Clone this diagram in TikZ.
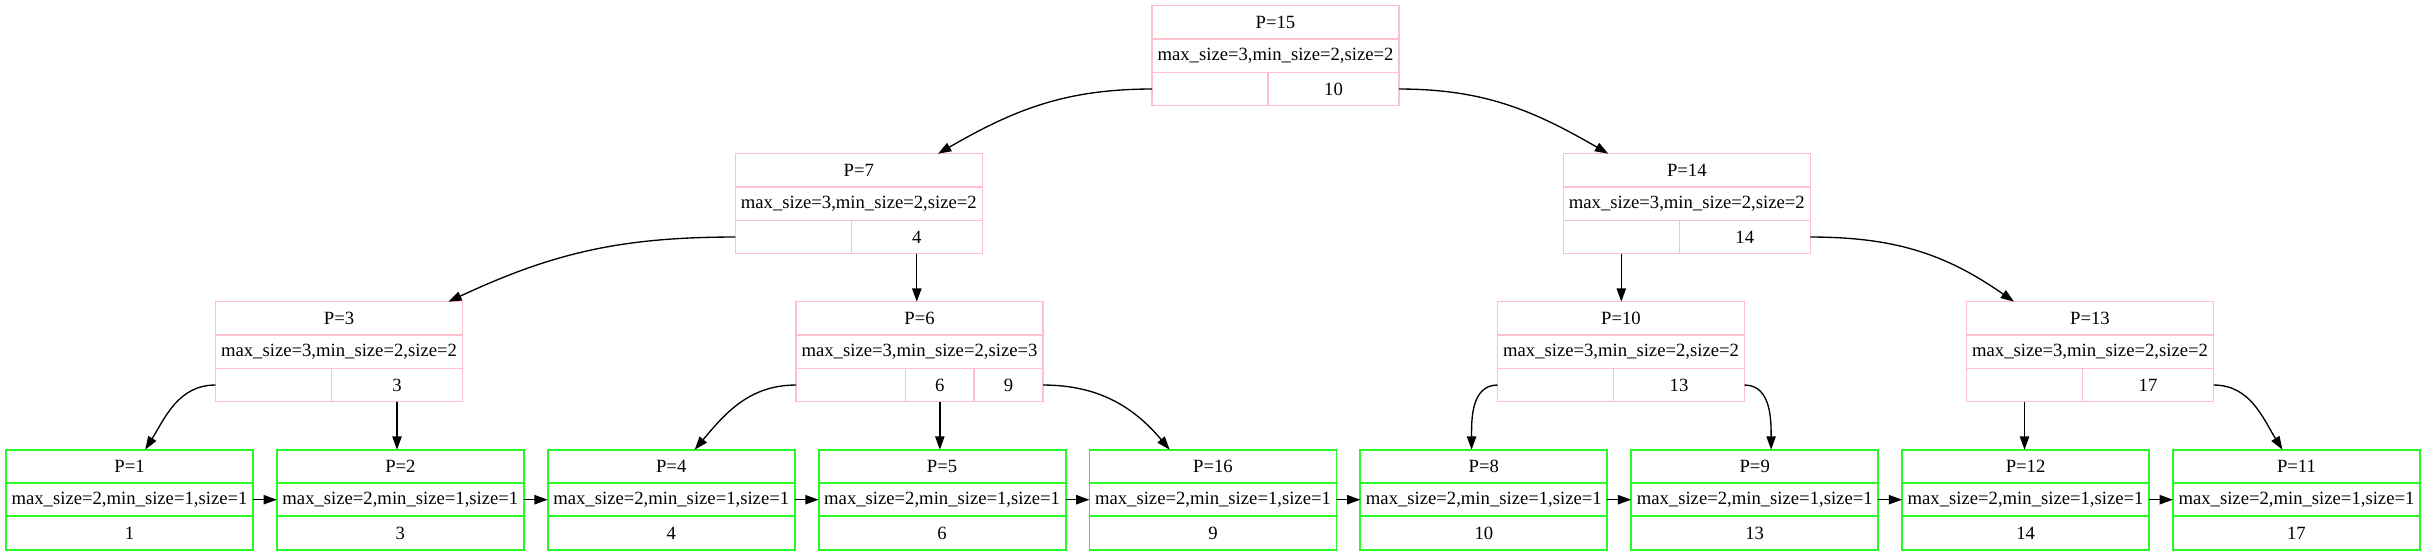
\documentclass[tikz,border=0pt]{standalone}
\usepackage{fontspec}
\setmainfont{Liberation Serif}
\usetikzlibrary{positioning,arrows.meta}
\definecolor{recpink}{RGB}{255,192,203}
\definecolor{leafgreen}{RGB}{40,250,40}

\begin{document}
\begin{tikzpicture}[x=0.75pt, y=-0.75pt,
  rec/.style={draw=recpink, line width=1pt, minimum width=185.25pt,
              minimum height=25pt, inner sep=0pt, outer sep=0pt,
              font=\fontsize{14}{16}\selectfont},
  lrec/.style={rec, draw=leafgreen, line width=1.4pt},
  arr/.style={-{Triangle[length=10pt,width=7pt]}, line width=1pt}]
\useasboundingbox (0,0) rectangle (2423,555);
% root page
\node[rec, anchor=north west] (p15) at (1152,5.7) {P=15};
\node[rec, below=0pt of p15] (p15m) {max\_size=3,min\_size=2,size=2};
\node[rec, minimum width=87pt, below right=0pt of p15m.south west] (p15a) {};
\node[rec, minimum width=98.25pt, right=0pt of p15a] (p15b) {10};
% second level
\node[rec, anchor=north west] (p7) at (735.3,153.7) {P=7};
\node[rec, below=0pt of p7] (p7m) {max\_size=3,min\_size=2,size=2};
\node[rec, minimum width=87pt, below right=0pt of p7m.south west] (p7a) {};
\node[rec, minimum width=98.25pt, right=0pt of p7a] (p7b) {4};
\node[rec, anchor=north west] (p14) at (1563.3,153.7) {P=14};
\node[rec, below=0pt of p14] (p14m) {max\_size=3,min\_size=2,size=2};
\node[rec, minimum width=87pt, below right=0pt of p14m.south west] (p14a) {};
\node[rec, minimum width=98.25pt, right=0pt of p14a] (p14b) {14};
% third level
\node[rec, anchor=north west] (p3) at (215.5,301.7) {P=3};
\node[rec, below=0pt of p3] (p3m) {max\_size=3,min\_size=2,size=2};
\node[rec, minimum width=87pt, below right=0pt of p3m.south west] (p3a) {};
\node[rec, minimum width=98.25pt, right=0pt of p3a] (p3b) {3};
\node[rec, anchor=north west] (p6) at (796,301.7) {P=6};
\node[rec, below=0pt of p6] (p6m) {max\_size=3,min\_size=2,size=3};
\node[rec, minimum width=82.25pt, below right=0pt of p6m.south west] (p6a) {};
\node[rec, minimum width=51.25pt, right=0pt of p6a] (p6b) {6};
\node[rec, minimum width=51.75pt, right=0pt of p6b] (p6c) {9};
\node[rec, anchor=north west] (p10) at (1497.5,301.7) {P=10};
\node[rec, below=0pt of p10] (p10m) {max\_size=3,min\_size=2,size=2};
\node[rec, minimum width=87pt, below right=0pt of p10m.south west] (p10a) {};
\node[rec, minimum width=98.25pt, right=0pt of p10a] (p10b) {13};
\node[rec, anchor=north west] (p13) at (1966.5,301.7) {P=13};
\node[rec, below=0pt of p13] (p13m) {max\_size=3,min\_size=2,size=2};
\node[rec, minimum width=87pt, below right=0pt of p13m.south west] (p13a) {};
\node[rec, minimum width=98.25pt, right=0pt of p13a] (p13b) {17};
% leaf pages, left to right
\node[lrec, anchor=north west] (p1) at (6,449.7) {P=1};
\node[lrec, right=17.9pt of p1] (p2) {P=2};
\node[lrec, right=17.9pt of p2] (p4) {P=4};
\node[lrec, right=17.9pt of p4] (p5) {P=5};
\node[lrec, right=17.9pt of p5] (p16) {P=16};
\node[lrec, right=17.9pt of p16] (p8) {P=8};
\node[lrec, right=17.9pt of p8] (p9) {P=9};
\node[lrec, right=17.9pt of p9] (p12) {P=12};
\node[lrec, right=17.9pt of p12] (p11) {P=11};
\node[lrec, below=0pt of p1] (p1m) {max\_size=2,min\_size=1,size=1};
\node[lrec, below=0pt of p2] (p2m) {max\_size=2,min\_size=1,size=1};
\node[lrec, below=0pt of p4] (p4m) {max\_size=2,min\_size=1,size=1};
\node[lrec, below=0pt of p5] (p5m) {max\_size=2,min\_size=1,size=1};
\node[lrec, below=0pt of p16] (p16m) {max\_size=2,min\_size=1,size=1};
\node[lrec, below=0pt of p8] (p8m) {max\_size=2,min\_size=1,size=1};
\node[lrec, below=0pt of p9] (p9m) {max\_size=2,min\_size=1,size=1};
\node[lrec, below=0pt of p12] (p12m) {max\_size=2,min\_size=1,size=1};
\node[lrec, below=0pt of p11] (p11m) {max\_size=2,min\_size=1,size=1};
\node[lrec, below=0pt of p1m] (p1k) {1};
\node[lrec, below=0pt of p2m] (p2k) {3};
\node[lrec, below=0pt of p4m] (p4k) {4};
\node[lrec, below=0pt of p5m] (p5k) {6};
\node[lrec, below=0pt of p16m] (p16k) {9};
\node[lrec, below=0pt of p8m] (p8k) {10};
\node[lrec, below=0pt of p9m] (p9k) {13};
\node[lrec, below=0pt of p12m] (p12k) {14};
\node[lrec, below=0pt of p11m] (p11k) {17};
% child pointers
\draw[arr] (p15a.west) to[out=180,in=30] ([xshift=59.4pt]p7.north);
\draw[arr] (p15b.east) to[out=0,in=150] ([xshift=-58.9pt]p14.north);
\draw[arr] (p7a.west) to[out=180,in=25] ([xshift=82pt]p3.north);
\draw[arr] (p7b.south) -- (p7b.south |- p6.north);
\draw[arr] (p14a.south) -- (p14a.south |- p10.north);
\draw[arr] (p14b.east) to[out=0,in=145] ([xshift=-57pt]p13.north);
\draw[arr] (p3a.west) to[out=180,in=58] ([xshift=11.8pt]p1.north);
\draw[arr] (p3b.south) -- (p3b.south |- p2.north);
\draw[arr] (p6a.west) to[out=180,in=50] ([xshift=17.6pt]p4.north);
\draw[arr] (p6b.south) -- (p6b.south |- p5.north);
\draw[arr] (p6c.east) to[out=0,in=130] ([xshift=-32.5pt]p16.north);
\draw[arr] (p10a.west) to[out=180,in=90] ([xshift=-9.2pt]p8.north);
\draw[arr] (p10b.east) to[out=0,in=90] ([xshift=12.3pt]p9.north);
\draw[arr] (p13a.south) -- (p13a.south |- p12.north);
\draw[arr] (p13b.east) to[out=0,in=122] ([xshift=-10.5pt]p11.north);
% sibling links between leaves
\draw[arr] (p1m.east) -- (p2m.west);
\draw[arr] (p2m.east) -- (p4m.west);
\draw[arr] (p4m.east) -- (p5m.west);
\draw[arr] (p5m.east) -- (p16m.west);
\draw[arr] (p16m.east) -- (p8m.west);
\draw[arr] (p8m.east) -- (p9m.west);
\draw[arr] (p9m.east) -- (p12m.west);
\draw[arr] (p12m.east) -- (p11m.west);
\end{tikzpicture}
\end{document}
